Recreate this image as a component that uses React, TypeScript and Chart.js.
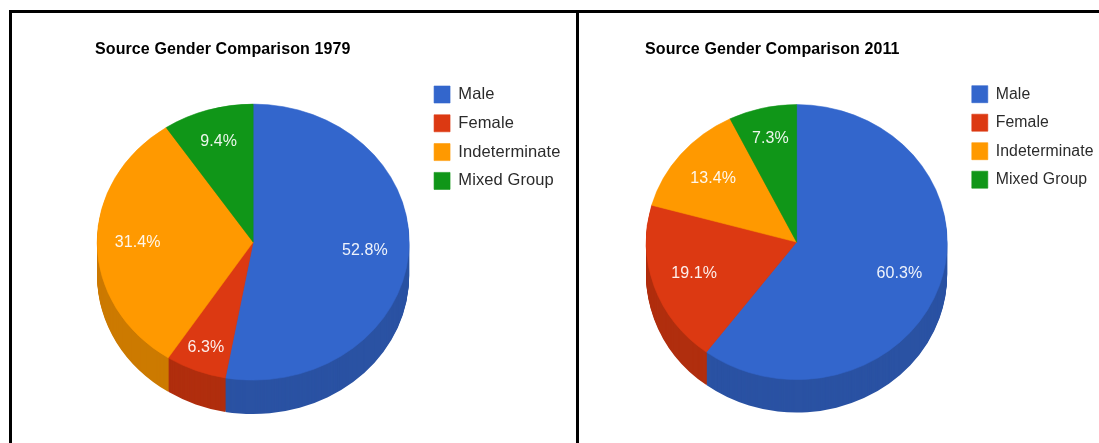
import React, { useEffect, useRef } from "react";
import { Chart, registerables } from "chart.js";

Chart.register(...registerables);

const categories = ["Male", "Female", "Indeterminate", "Mixed Group"];
const shares1979 = [52.8, 6.3, 31.4, 9.4];
const shares2011 = [60.3, 19.1, 13.4, 7.3];
const topColors = ["#3366CC", "#DC3912", "#FF9900", "#109618"];
const sideColors = ["#2A52A3", "#B02E0E", "#CC7A00", "#0D7813"];

// How far out along the radius each percentage sits.
const labelReach1979 = [0.72, 0.82, 0.74, 0.76];
const labelReach2011 = [0.72, 0.72, 0.72, 0.77];

const FONT = "'Liberation Sans', Arial, sans-serif";

// Squashes the pie into an ellipse, extrudes a rim below it and writes the percentages.
const tiltedPie = {
  id: "tiltedPie",
  beforeLayout(chart: any) {
    (chart.ctx as any).letterSpacing = "0.1px";
  },
  afterLayout(chart: any, _args: any, opts: any) {
    chart.titleBlock.left = opts.titleLeft;
  },
  beforeDatasetsDraw(chart: any, _args: any, opts: any) {
    const ctx = chart.ctx;
    const arcs = chart.getDatasetMeta(0).data;
    const { x, y } = arcs[0];
    ctx.save();
    ctx.translate(x, y);
    ctx.scale(1, opts.squash);
    ctx.translate(-x, -y);
    for (let d = opts.depth; d > 0; d -= 1) {
      ctx.save();
      ctx.translate(0, d / opts.squash);
      arcs.forEach((arc: any, i: number) => {
        const original = arc.options;
        arc.options = Object.assign(Object.create(original), {
          backgroundColor: sideColors[i],
          borderColor: sideColors[i],
          borderWidth: 0,
        });
        arc.draw(ctx);
        arc.options = original;
      });
      ctx.restore();
    }
  },
  afterDatasetsDraw(chart: any, _args: any, opts: any) {
    const ctx = chart.ctx;
    ctx.restore();
    const arcs = chart.getDatasetMeta(0).data;
    const values = chart.data.datasets[0].data;
    ctx.save();
    (ctx as any).letterSpacing = "0.1px";
    ctx.font = `16px ${FONT}`;
    ctx.fillStyle = "rgba(255,255,255,0.92)";
    ctx.textAlign = "center";
    ctx.textBaseline = "middle";
    arcs.forEach((arc: any, i: number) => {
      const mid = (arc.startAngle + arc.endAngle) / 2;
      const r = arc.outerRadius * opts.reach[i];
      const px = arc.x + Math.cos(mid) * r;
      const py = arc.y + Math.sin(mid) * r * opts.squash;
      ctx.fillText(`${values[i].toFixed(1)}%`, px, py);
    });
    ctx.restore();
  },
};

function buildChart(
  canvas: HTMLCanvasElement,
  heading: string,
  values: number[],
  radius: number,
  padLeft: number,
  padRight: number,
  squash: number,
  depth: number,
  titleLeft: number,
  reach: number[],
  legendSize: number,
  legendGap: number,
) {
  return new Chart(canvas, {
    type: "pie",
    plugins: [tiltedPie],
    data: {
      labels: categories,
      datasets: [
        {
          data: values,
          backgroundColor: topColors,
          borderColor: topColors,
          borderWidth: 0.6,
          radius,
          clip: false,
        } as any,
      ],
    },
    options: {
      responsive: false,
      animation: false,
      devicePixelRatio: 1,
      layout: { padding: { left: padLeft, right: padRight, top: 0, bottom: 33 } },
      plugins: {
        tooltip: { enabled: false },
        title: {
          display: true,
          text: heading,
          align: "start",
          color: "#000",
          font: { family: FONT, size: 16, weight: "bold" },
          padding: { top: 40, bottom: 15 },
        },
        legend: {
          position: "right",
          align: "start",
          fullSize: false,
          labels: {
            boxWidth: 16,
            boxHeight: 17,
            padding: legendGap,
            color: "#2b2b2b",
            font: { family: FONT, size: legendSize },
          },
        },
        tiltedPie: { squash, depth, titleLeft, reach },
      } as any,
    },
  });
}

export default function App() {
  const leftRef = useRef<HTMLCanvasElement>(null);
  const rightRef = useRef<HTMLCanvasElement>(null);

  useEffect(() => {
    const left = buildChart(
      leftRef.current!, "Source Gender Comparison 1979", shares1979,
      156, 84, 7.5, 138 / 156, 34, 95, labelReach1979, 16.5, 11.8,
    );
    const right = buildChart(
      rightRef.current!, "Source Gender Comparison 2011", shares2011,
      150.5, 55, 7.4, 137.5 / 150.5, 33, 67, labelReach2011, 15.8, 11.5,
    );
    return () => {
      left.destroy();
      right.destroy();
    };
  }, []);

  const rule = { position: "absolute", background: "#000" } as const;
  return (
    <div style={{ position: "fixed", inset: 0, overflow: "hidden", background: "#fff" }}>
      <canvas ref={leftRef} width={578} height={443} style={{ position: "absolute", left: 0, top: 0, display: "block" }} />
      <canvas ref={rightRef} width={533} height={443} style={{ position: "absolute", left: 578, top: 0, display: "block" }} />
      <div style={{ ...rule, left: 9, top: 10, right: 0, height: 3 }} />
      <div style={{ ...rule, left: 9, top: 10, bottom: 0, width: 3 }} />
      <div style={{ ...rule, left: 576, top: 10, bottom: 0, width: 3 }} />
    </div>
  );
}
